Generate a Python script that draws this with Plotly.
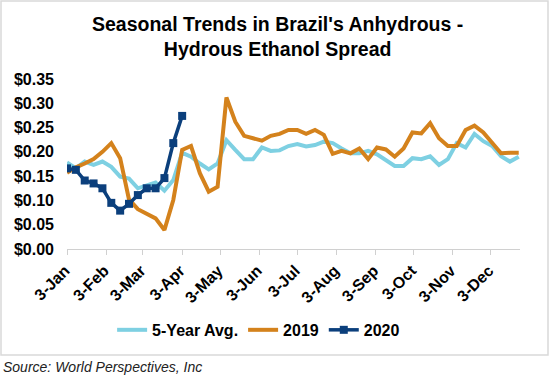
import pandas as pd
import plotly.graph_objects as go

start_date = "2020-01-03"

avg5 = [0.178, 0.166, 0.180, 0.173, 0.180, 0.169, 0.149, 0.145, 0.125, 0.132,
        0.137, 0.120, 0.142, 0.198, 0.190, 0.176, 0.164, 0.176, 0.224, 0.204,
        0.185, 0.185, 0.209, 0.202, 0.203, 0.212, 0.216, 0.211, 0.214, 0.221,
        0.218, 0.207, 0.197, 0.197, 0.202, 0.195, 0.183, 0.171, 0.171, 0.187,
        0.185, 0.191, 0.173, 0.185, 0.218, 0.209, 0.237, 0.222, 0.212, 0.191,
        0.180, 0.190]

y2019 = [0.157, 0.168, 0.176, 0.185, 0.200, 0.218, 0.187, 0.102, 0.082, 0.073,
         0.063, 0.039, 0.101, 0.204, 0.212, 0.156, 0.118, 0.128, 0.312, 0.262,
         0.233, 0.228, 0.223, 0.233, 0.237, 0.245, 0.245, 0.237, 0.245, 0.235,
         0.196, 0.202, 0.197, 0.207, 0.185, 0.209, 0.205, 0.190, 0.207, 0.240,
         0.238, 0.259, 0.228, 0.212, 0.212, 0.245, 0.254, 0.240, 0.219, 0.197,
         0.198, 0.198]

y2020 = [0.166, 0.163, 0.141, 0.135, 0.125, 0.095, 0.079, 0.093, 0.111, 0.125,
         0.125, 0.146, 0.218, 0.274]

tick_dates = ["2020-01-03", "2020-02-03", "2020-03-03", "2020-04-03", "2020-05-03",
              "2020-06-03", "2020-07-03", "2020-08-03", "2020-09-03", "2020-10-03",
              "2020-11-03", "2020-12-03"]
tick_labels = ["3-Jan", "3-Feb", "3-Mar", "3-Apr", "3-May", "3-Jun", "3-Jul",
               "3-Aug", "3-Sep", "3-Oct", "3-Nov", "3-Dec"]
y_ticks = [0.0, 0.05, 0.10, 0.15, 0.20, 0.25, 0.30, 0.35]

dates = pd.date_range(start_date, periods=len(avg5), freq="7D")

FONT = "Liberation Sans, Arial, sans-serif"

fig = go.Figure()
fig.add_trace(go.Scatter(x=dates, y=avg5, mode="lines", name="5-Year Avg.",
                         line=dict(color="#7ED0E2", width=4)))
fig.add_trace(go.Scatter(x=dates, y=y2019, mode="lines", name="2019",
                         line=dict(color="#D4821C", width=4)))
fig.add_trace(go.Scatter(x=dates[:len(y2020)], y=y2020, mode="lines+markers", name="2020",
                         line=dict(color="#0B3F7C", width=3.5),
                         marker=dict(symbol="square", size=8, color="#0B3F7C")))

fig.update_layout(
    width=554, height=379,
    paper_bgcolor="white", plot_bgcolor="white",
    margin=dict(l=67, r=34, t=79, b=130, autoexpand=False),
    font=dict(family=FONT, color="black"),
    showlegend=True,
    legend=dict(orientation="h", x=0.423, xanchor="center", y=-0.476, yanchor="middle",
                font=dict(size=16, family=FONT, color="black", weight="bold"),
                itemwidth=30, tracegroupgap=0, traceorder="normal"),
    xaxis=dict(range=["2020-01-03", "2020-12-26"], tickvals=tick_dates, ticktext=tick_labels,
               tickangle=-45, tickfont=dict(size=16, family=FONT, color="black", weight="bold"),
               showgrid=False, showline=True, linecolor="#d0d0d0", linewidth=1,
               ticks="outside", ticklen=5, tickcolor="#d0d0d0", zeroline=False,
               ticklabelshift=-2, automargin=False),
    yaxis=dict(range=[0, 0.35], tickvals=y_ticks, tickformat="$.2f",
               tickfont=dict(size=16, family=FONT, color="black", weight="bold"),
               showgrid=False, showline=False, zeroline=False, ticks="", ticklen=0,
               ticklabelstandoff=12, automargin=False),
)

fig.add_annotation(text="<b>Seasonal Trends in Brazil's Anhydrous -<br>Hydrous Ethanol Spread</b>",
                   xref="paper", yref="paper", x=0.465, xanchor="center",
                   y=1.25, yanchor="middle", showarrow=False,
                   font=dict(size=19.5, family=FONT, color="black"))

# chart border
fig.add_shape(type="rect", xref="paper", yref="paper",
              x0=-0.1457, x1=1.0618, y0=-0.6235, y1=1.459,
              line=dict(color="#d9d9d9", width=1.5), fillcolor="rgba(0,0,0,0)", layer="below")

fig.add_annotation(text="<i>Source: World Perspectives, Inc</i>", xref="paper", yref="paper",
                   x=-0.145, xanchor="left", y=-0.635, yanchor="top", showarrow=False,
                   font=dict(size=14, family=FONT, color="#222222"))

fig.write_html("out.html", config={"displayModeBar": False},
               post_script="document.body.style.margin='0';document.body.style.padding='0';")
